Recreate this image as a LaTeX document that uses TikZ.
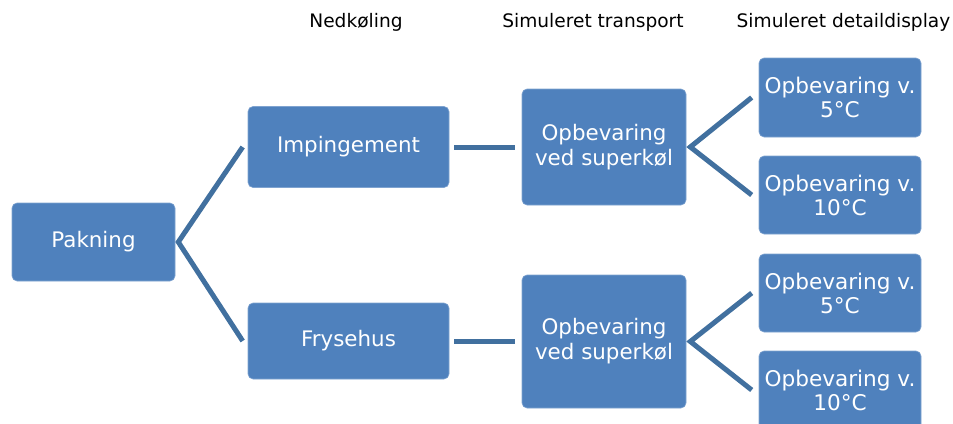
\documentclass[tikz,border=0pt]{standalone}
\usepackage{fontspec}
\setmainfont{DejaVu Sans}
\definecolor{boxfill}{HTML}{4F81BD}
\definecolor{boxedge}{HTML}{7FA3D0}
\definecolor{linecol}{HTML}{41709F}
\begin{document}
\begin{tikzpicture}[x=1pt,y=-1pt,
  box/.style={fill=boxfill,draw=boxedge,line width=0.6pt,rounded corners=5pt,
    text=white,align=center,inner sep=0pt,font=\fontsize{21.4}{25}\selectfont},
  rbox/.style={box,minimum width=162pt,minimum height=78pt,font=\fontsize{21.6}{24}\selectfont},
  head/.style={font=\fontsize{18.6}{22}\selectfont,text=black,inner sep=0pt},
  conn/.style={draw=linecol,line width=5pt}]
\useasboundingbox (0,0) rectangle (953,423);
\begin{scope}
\clip (0,0) rectangle (953,423);
\node[head] (h1) at (356,22) {Nedkøling};
\node[head] (h2) at (593,22) {Simuleret transport};
\node[head] (h3) at (843.5,22) {Simuleret detaildisplay};

\node[box,minimum width=163pt,minimum height=78pt] (pak) at (93.5,242) {Pakning};
\node[box,minimum width=201pt,minimum height=81pt] (imp) at (348.5,147) {Impingement};
\node[box,minimum width=201pt,minimum height=76pt] (fry) at (348.5,341) {Frysehus};
\node[box,minimum width=164pt,minimum height=116pt] (sk1) at (604,147) {Opbevaring\\ved superkøl};
\node[box,minimum width=164pt,minimum height=133pt] (sk2) at (604,341.5) {Opbevaring\\ved superkøl};
\node[rbox,minimum height=79pt] (r1) at (840,97.5) {Opbevaring v.\\5°C};
\node[rbox] (r2) at (840,195) {Opbevaring v.\\10°C};
\node[rbox] (r3) at (840,293) {Opbevaring v.\\5°C};
\node[rbox] (r4) at (840,390) {Opbevaring v.\\10°C};

\draw[conn] ([xshift=-5pt]imp.west) -- ([xshift=3pt]pak.east) -- ([xshift=-5pt]fry.west);
\draw[conn] ([xshift=5pt]imp.east) -- ([xshift=-7pt]sk1.west |- imp.east);
\draw[conn] ([xshift=5pt]fry.east) -- ([xshift=-7pt]sk2.west |- fry.east);
\draw[conn] ([xshift=-7pt]r1.west) -- ([xshift=4pt]sk1.east) -- ([xshift=-7pt]r2.west);
\draw[conn] ([xshift=-7pt]r3.west) -- ([xshift=4pt]sk2.east) -- ([xshift=-7pt]r4.west);
\end{scope}
\end{tikzpicture}
\end{document}
